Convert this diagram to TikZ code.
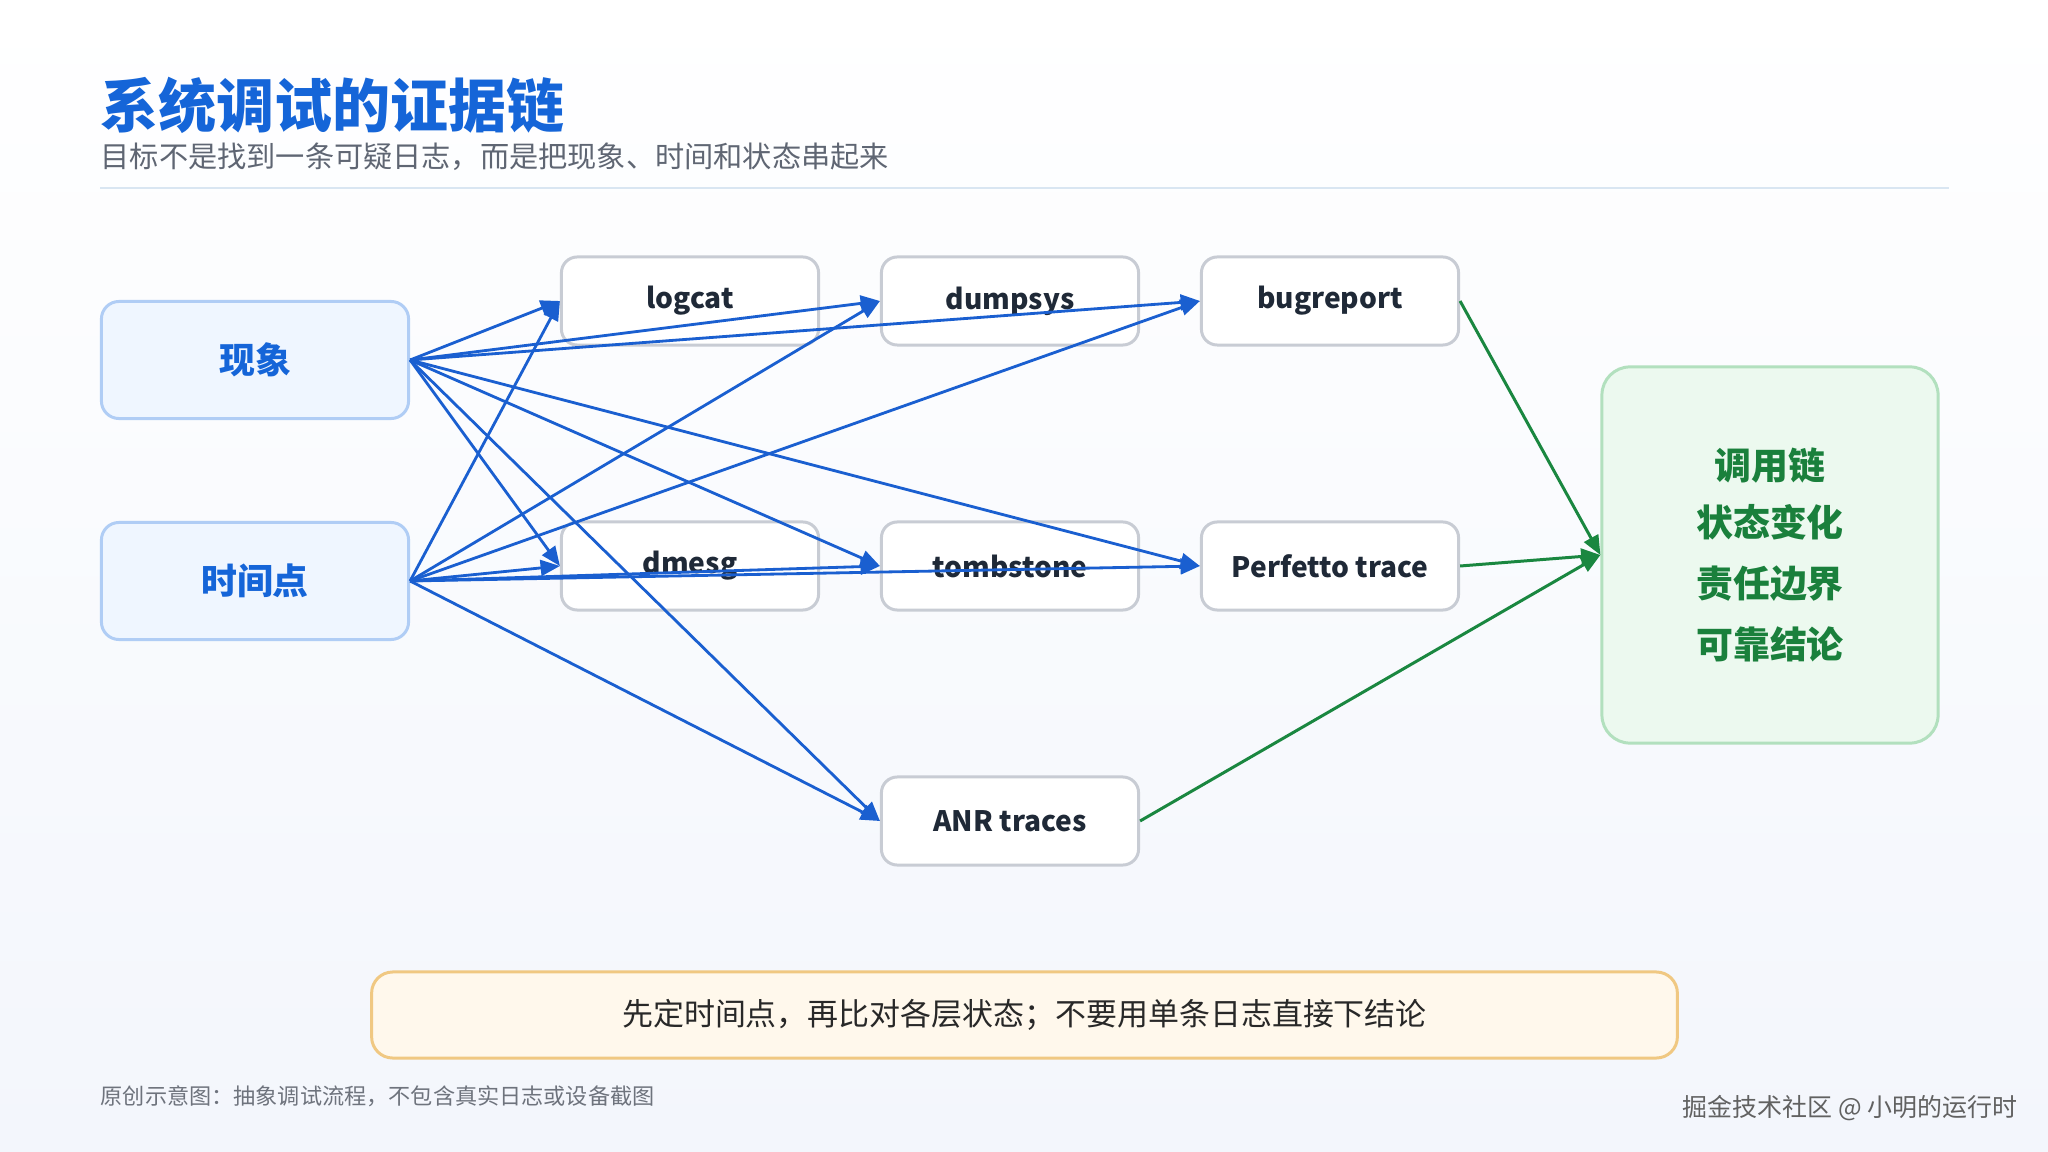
\documentclass[tikz,border=0pt]{standalone}
\usepackage{fontspec}
\setmainfont{Noto Sans CJK SC}
\usepackage{tikz}
\usetikzlibrary{arrows.meta,positioning}
\definecolor{titleblue}{RGB}{21,101,216}
\definecolor{subgray}{RGB}{95,102,115}
\definecolor{rulecol}{RGB}{217,230,242}
\definecolor{srcfill}{RGB}{239,246,255}
\definecolor{srcdraw}{RGB}{176,205,245}
\definecolor{middraw}{RGB}{200,204,212}
\definecolor{midtext}{RGB}{31,41,55}
\definecolor{evblue}{RGB}{26,95,208}
\definecolor{evgreen}{RGB}{26,135,64}
\definecolor{resfill}{RGB}{236,249,239}
\definecolor{resdraw}{RGB}{178,224,190}
\definecolor{restext}{RGB}{26,128,60}
\definecolor{notefill}{RGB}{255,248,236}
\definecolor{notedraw}{RGB}{240,200,130}
\definecolor{notetext}{RGB}{40,40,40}
\definecolor{footgray}{RGB}{110,115,125}
\definecolor{bgbottom}{RGB}{243,246,252}
\tikzset{
  src/.style={rectangle, draw=srcdraw, fill=srcfill, line width=0.85pt, rounded corners=5pt, minimum width=3.07cm, minimum height=1.17cm, text=titleblue, font=\fontsize{10.2}{12}\selectfont\bfseries},
  ev/.style={rectangle, draw=middraw, fill=white, line width=0.85pt, rounded corners=4.5pt, minimum width=2.57cm, minimum height=0.88cm, text=midtext, font=\fontsize{8}{10}\selectfont\bfseries},
  res/.style={rectangle, draw=resdraw, fill=resfill, line width=0.85pt, rounded corners=8pt, minimum width=3.36cm, minimum height=3.76cm, text=restext, align=center, font=\fontsize{10.5}{17.3}\selectfont\bfseries},
  note/.style={rectangle, draw=notedraw, fill=notefill, line width=0.85pt, rounded corners=6pt, minimum width=13.05cm, minimum height=0.86cm, text=notetext, font=\fontsize{8.8}{10}\selectfont},
  blu/.style={-{Triangle[length=5.5pt,width=4.5pt]}, draw=evblue, line width=0.8pt},
  grn/.style={-{Triangle[length=5.5pt,width=4.5pt]}, draw=evgreen, line width=0.85pt}
}

\begin{document}
\begin{tikzpicture}[x=0.01cm, y=-0.01cm]
    
    % === Background ===
    \useasboundingbox (0,0) rectangle (2048,1152);
    \fill[top color=white, bottom color=bgbottom] (0,0) rectangle (2048,1152);
    
    % === Heading ===
    \node[anchor=west, inner sep=0pt, text=titleblue, font=\fontsize{16.5}{18}\selectfont\bfseries] (title) at (100,105) {系统调试的证据链};
    \node[anchor=west, inner sep=0pt, text=subgray, font=\fontsize{8.3}{10}\selectfont] (subtitle) at (100,157) {目标不是找到一条可疑日志，而是把现象、时间和状态串起来};
    \draw[rulecol, line width=0.8pt] (100,188) -- (1949,188);
    
    % Inputs
    \node[src] (phen) at (255,360) {\raisebox{-0.6pt}{现象}};
    \node[src] (tpt) at (255,581) {\raisebox{-0.6pt}{时间点}};
    
    % Evidence sources
    \foreach \n/\x/\y/\t in {logcat/690/301/logcat, dumpsys/1010/301/dumpsys, bugrep/1330/301/bugreport,
                             dmesg/690/566/dmesg, tomb/1010/566/tombstone, perf/1330/566/Perfetto trace,
                             anr/1010/821/ANR traces} {
        \node[ev] (\n) at (\x,\y) {\raisebox{-0.6pt}{\t}};
    }
    
    % Conclusion
    \node[res] (concl) at (1770,555) {\raisebox{-1pt}{调用链}\\状态变化\\责任边界\\可靠结论};
    
    % === Connectors ===
    \foreach \s in {phen,tpt} {
        \foreach \d in {logcat,dumpsys,bugrep,dmesg,tomb,perf,anr} {
            \draw[blu] (\s.east) -- (\d.west);
        }
    }
    \foreach \s in {bugrep,perf,anr} {
        \draw[grn] (\s.east) -- (concl.west);
    }
    
    % === Footer ===
    \node[note] (note) at (1024.5,1015) {先定时间点，再比对各层状态；不要用单条日志直接下结论};
    \node[anchor=west, inner sep=0pt, text=footgray, font=\fontsize{6.3}{8}\selectfont] (src) at (100,1096) {原创示意图：抽象调试流程，不包含真实日志或设备截图};
    \node[anchor=east, inner sep=0pt, text=black!62, font=\fontsize{7.1}{8}\selectfont] (mark) at (2018,1108) {掘金技术社区 @ 小明的运行时};
    
\end{tikzpicture}
\end{document}
